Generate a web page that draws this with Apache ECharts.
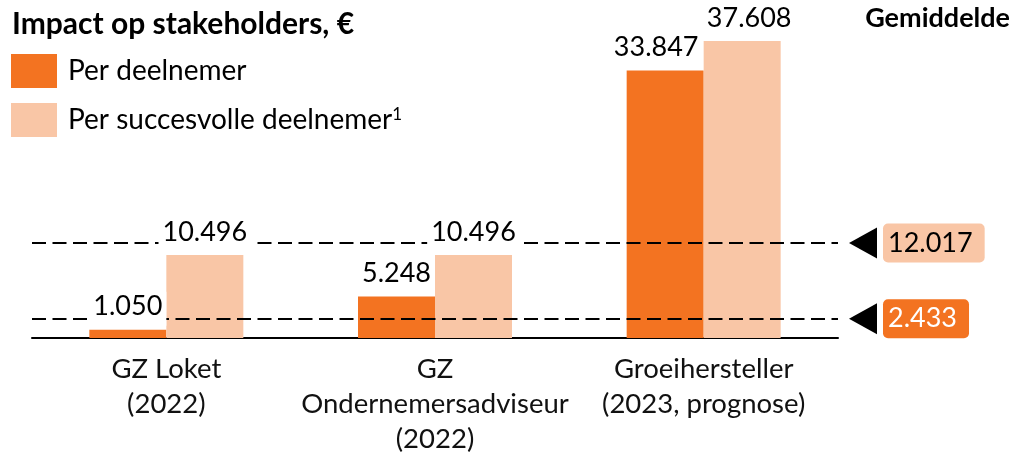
<!DOCTYPE html>
<html>
<head>
<meta charset="utf-8">
<script src="https://cdn.jsdelivr.net/npm/echarts@6/dist/echarts.min.js"></script>
<style>
  html, body { margin: 0; padding: 0; background: #fff; }
  #chart { width: 1017px; height: 458px; }
</style>
</head>
<body>
<div id="chart"></div>
<script>
// data
const categories = ['GZ Loket\n(2022)', 'GZ\nOndernemersadviseur\n(2022)', 'Groeihersteller\n(2023, prognose)'];
const perDeelnemer = [1050, 5248, 33847];
const perSuccesvol = [10496, 10496, 37608];
const avgDeelnemer = 2433;
const avgSuccesvol = 12017;

const ORANGE = '#F37321';
const PEACH = '#F9C6A6';
const FONT = 'Lato';

// 1050 -> 1.050
function fmt(v) {
  return String(v).replace(/\B(?=(\d{3})+(?!\d))/g, '.');
}

const chart = echarts.init(document.getElementById('chart'), null, { renderer: 'canvas' });

// labels in an extra layer so they sit above the dashed lines (white box cuts the line)
// last group: no white box (it would cover the neighbour bar), labels pushed apart a bit
function labelData(values, shift) {
  return values.map((v, i) => {
    if (i === 2) return { value: v, label: { backgroundColor: 'transparent', offset: [shift, 0] } };
    return v;
  });
}

// full-width average line, triangle sits a bit right of the line end
function avgLine(v, bg, fg) {
  return [
    { coord: [-Infinity, v], value: v, label: { backgroundColor: bg, color: fg } },
    { coord: [Infinity, v], value: v, symbolSize: [31, 28], symbolOffset: [0, 25] }
  ];
}

const barLabel = {
  show: true,
  position: 'top',
  distance: 4,
  formatter: p => fmt(p.value),
  fontFamily: FONT,
  fontSize: 27,
  lineHeight: 26,
  color: '#000',
  backgroundColor: '#fff',
  padding: [2, 4, 6, 4]
};

const avgLabel = {
  position: 'end', distance: 45,
  fontFamily: FONT, fontSize: 27, lineHeight: 26,
  borderRadius: 5, padding: [6, 12, 7, 5],
  formatter: p => fmt(p.value)
};

const option = {
  animation: false,
  title: [
    {
      text: 'Impact op stakeholders, €',
      left: 12, top: 9, padding: 0,
      textStyle: { fontFamily: FONT, fontWeight: 'bold', fontSize: 30, color: '#000' }
    },
    {
      text: 'Gemiddelde',
      right: 7, top: 5, padding: 0,
      textStyle: { fontFamily: FONT, fontWeight: 'bold', fontSize: 27, color: '#000' }
    }
  ],
  legend: {
    orient: 'vertical',
    left: 11, top: 54, padding: 0,
    icon: 'rect',
    itemWidth: 46, itemHeight: 34, itemGap: 15,
    data: ['Per deelnemer', 'Per succesvolle deelnemer'],
    formatter: name => name === 'Per succesvolle deelnemer' ? name + '{sup|1}' : name,
    textStyle: {
      fontFamily: FONT, fontSize: 28, color: '#000', padding: [0, 0, 0, 6],
      rich: { sup: { fontFamily: FONT, fontSize: 17, lineHeight: 17, verticalAlign: 'top', color: '#000' } }
    }
  },
  grid: { left: 32, right: 179, top: 22, bottom: 120 },
  xAxis: [
    {
      type: 'category',
      data: categories,
      axisLine: { lineStyle: { color: '#000', width: 2 } },
      axisTick: { show: false },
      axisLabel: { interval: 0, margin: 14, fontFamily: FONT, fontSize: 27.5, lineHeight: 35, color: '#111' }
    },
    { type: 'category', data: categories, show: false }
  ],
  yAxis: { type: 'value', min: 0, max: 40000, show: false },
  series: [
    {
      name: 'Per deelnemer', type: 'bar', data: perDeelnemer,
      barWidth: 77, barGap: 0, z: 2,
      itemStyle: { color: ORANGE }
    },
    {
      name: 'Per succesvolle deelnemer', type: 'bar', data: perSuccesvol,
      barWidth: 77, barGap: 0, z: 2,
      itemStyle: { color: PEACH }
    },
    {
      // holder for the average lines
      name: 'gemiddelde', type: 'line', data: [], z: 5,
      markLine: {
        silent: true,
        symbol: ['none', 'triangle'],
        symbolSize: 30,
        symbolRotate: 90,
        lineStyle: { color: '#000', width: 2, type: [14, 6.5] },
        label: avgLabel,
        data: [
          avgLine(avgSuccesvol, PEACH, '#000'),
          avgLine(avgDeelnemer, ORANGE, '#fff')
        ]
      }
    },
    {
      name: 'lbl1', type: 'bar', xAxisIndex: 1, data: labelData(perDeelnemer, -9),
      barWidth: 77, barGap: 0, z: 10, silent: true,
      itemStyle: { color: 'transparent' }, label: barLabel
    },
    {
      name: 'lbl2', type: 'bar', xAxisIndex: 1, data: labelData(perSuccesvol, 7),
      barWidth: 77, barGap: 0, z: 10, silent: true,
      itemStyle: { color: 'transparent' }, label: barLabel
    }
  ]
};

chart.setOption(option);
</script>
</body>
</html>
